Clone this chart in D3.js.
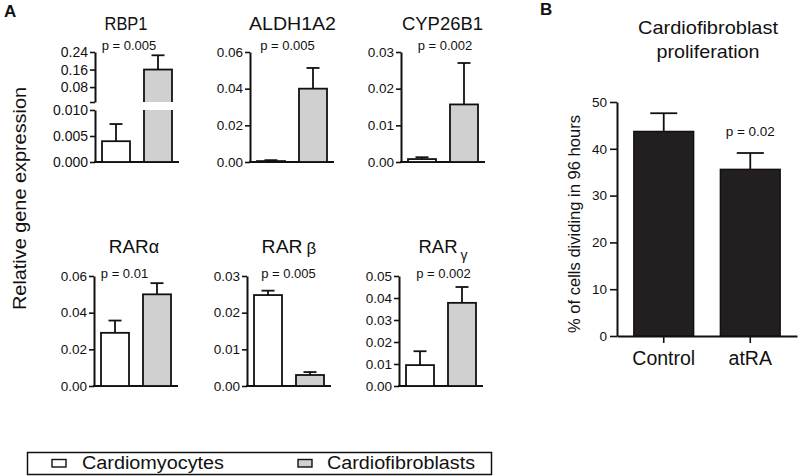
<!DOCTYPE html>
<html><head><meta charset="utf-8">
<script src="https://cdn.jsdelivr.net/npm/d3@7"></script>
<style>
html,body{margin:0;padding:0;background:#fff;}
svg{display:block;font-family:"Liberation Sans",Arial,Helvetica,sans-serif;}
</style></head><body>
<svg id="chart" width="798" height="476"></svg>
<script>
// ---------------- data ----------------
const genes = ["RBP1", "ALDH1A2", "CYP26B1", "RARα", "RARβ", "RARγ"];
const groups = ["Cardiomyocytes", "Cardiofibroblasts"];
const cardiomyocyteValues = [0.004, 0.0005, 0.0008, 0.029, 0.0248, 0.0095];
const cardiomyocyteErrors = [0.0033, 0.0005, 0.0005, 0.0067, 0.0012, 0.0063];
const cardiofibroblastValues = [0.16, 0.040, 0.0157, 0.050, 0.003, 0.0378];
const cardiofibroblastErrors = [0.065, 0.0113, 0.0113, 0.0061, 0.0008, 0.0072];
const pLabels = ["p = 0.005", "p = 0.005", "p = 0.002", "p = 0.01", "p = 0.005", "p = 0.002"];
const yMaxes = [0.010, 0.06, 0.03, 0.06, 0.03, 0.05];
const yTicks = [
  [0, 0.005, 0.010],
  [0, 0.02, 0.04, 0.06],
  [0, 0.01, 0.02, 0.03],
  [0, 0.02, 0.04, 0.06],
  [0, 0.01, 0.02, 0.03],
  [0, 0.01, 0.02, 0.03, 0.04, 0.05]
];
// RBP1 broken axis upper segment
const rbp1UpperDomain = [0.012, 0.24];
const rbp1UpperTicks = [0.08, 0.16, 0.24];

// panel B
const treatments = ["Control", "atRA"];
const proliferationValues = [43.7, 35.6];
const proliferationErrors = [3.9, 3.5];
const proliferationTicks = [0, 10, 20, 30, 40, 50];
const proliferationP = "p = 0.02";

// ---------------- layout ----------------
const svg = d3.select("#chart");
const GRAY = "#d0d0d0";
const DARK = "#231f20";
const INK = "#111";

function fit(sel, w) { return sel.attr("textLength", w).attr("lengthAdjust", "spacingAndGlyphs"); }
function text(x, y, s, size, opts = {}) {
  const t = svg.append("text").attr("x", x).attr("y", y).attr("font-size", size)
    .attr("text-anchor", opts.anchor || "middle").attr("fill", INK).text(s);
  if (opts.bold) t.attr("font-weight", "bold");
  if (opts.w) fit(t, opts.w);
  return t;
}
function styleAxis(g, fontSize) {
  g.select(".domain").attr("stroke", INK).attr("stroke-width", 2);
  g.selectAll(".tick line").attr("stroke", INK).attr("stroke-width", 1.6);
  g.selectAll(".tick text").attr("font-size", fontSize).attr("fill", INK)
    .attr("font-family", "Liberation Sans, Arial, sans-serif");
}

const axisX = [[95, 250, 401], [94, 247, 399]];
const rowBase = [162, 386];
const rowTop = [52, 276];
const plotW = 84;
const titleY = [30, 253];
const pY = [50, 278];
const titleDx = [31, 42.5, 41.5, 40, 42, 44];
const titleW = [43, 87, 81, null, null, null];
const pDx = [34, 37.5, 44, 30.5, 41.5, 44.5];

// panel letters
text(4, 17, "A", 17, { anchor: "start", bold: true });
text(540, 15, "B", 17, { anchor: "start", bold: true });

// left y label
svg.append("text").attr("transform", "translate(26,198.5) rotate(-90)")
  .attr("text-anchor", "middle").attr("font-size", 18.5).attr("fill", INK)
  .text("Relative gene expression").call(fit, 223);

genes.forEach((gene, i) => {
  const row = Math.floor(i / 3), col = i % 3;
  const ax = axisX[row][col];
  const base = rowBase[row], top = rowTop[row];
  const x = d3.scaleBand().domain(groups).range([ax, ax + plotW])
    .paddingInner(1 / 3).paddingOuter(1 / 6);
  const g = svg.append("g");

  let yLow, yHigh = null;
  if (i === 0) {
    yLow = d3.scaleLinear().domain([0, yMaxes[i]]).range([base, 110]);
    yHigh = d3.scaleLinear().domain(rbp1UpperDomain).range([102, top]);
  } else {
    yLow = d3.scaleLinear().domain([0, yMaxes[i]]).range([base, top]);
  }
  const yOf = v => (yHigh && v > yMaxes[0]) ? yHigh(v) : yLow(v);
  const fs = i === 0 ? 14 : 13.5;

  // y axes
  const a1 = g.append("g").attr("transform", `translate(${ax},0)`)
    .call(d3.axisLeft(yLow).tickValues(yTicks[i]).tickSize(5).tickPadding(2).tickSizeOuter(0)
      .tickFormat(d3.format(i === 0 ? ".3f" : ".2f")));
  styleAxis(a1, fs);
  if (yHigh) {
    const a2 = g.append("g").attr("transform", `translate(${ax},0)`)
      .call(d3.axisLeft(yHigh).tickValues([rbp1UpperDomain[0]].concat(rbp1UpperTicks)).tickSize(5)
        .tickPadding(2).tickSizeOuter(0)
        .tickFormat(d => d === rbp1UpperDomain[0] ? "" : d3.format(".2f")(d)));
    styleAxis(a2, fs);
  }
  // x axis line
  g.append("line").attr("x1", ax - 1).attr("x2", ax + plotW).attr("y1", base).attr("y2", base)
    .attr("stroke", INK).attr("stroke-width", 2);

  const series = [
    { key: groups[0], v: cardiomyocyteValues[i], e: cardiomyocyteErrors[i], fill: "#fff" },
    { key: groups[1], v: cardiofibroblastValues[i], e: cardiofibroblastErrors[i], fill: GRAY }
  ];
  series.forEach(s => {
    const cx = x(s.key) + x.bandwidth() / 2;
    const yTop = yOf(s.v + s.e);
    g.append("line").attr("x1", cx).attr("x2", cx).attr("y1", yOf(s.v)).attr("y2", yTop)
      .attr("stroke", INK).attr("stroke-width", 1.8);
    g.append("line").attr("x1", cx - 6.5).attr("x2", cx + 6.5).attr("y1", yTop).attr("y2", yTop)
      .attr("stroke", INK).attr("stroke-width", 1.8);
    g.append("rect").attr("x", x(s.key)).attr("y", yOf(s.v))
      .attr("width", x.bandwidth()).attr("height", base - yOf(s.v))
      .attr("fill", s.fill).attr("stroke", INK).attr("stroke-width", 1.8);
    if (yHigh && s.v > yMaxes[0]) {
      g.append("rect").attr("x", x(s.key) - 3).attr("y", yHigh(rbp1UpperDomain[0]))
        .attr("width", x.bandwidth() + 6).attr("height", yLow(yMaxes[0]) - yHigh(rbp1UpperDomain[0]))
        .attr("fill", "#fff");
    }
  });

  // title
  const tx = ax + titleDx[i];
  if (gene.startsWith("RAR")) {
    const t = svg.append("text").attr("x", tx).attr("y", titleY[row]).attr("text-anchor", "middle")
      .attr("font-size", 18).attr("fill", INK);
    const greek = gene.slice(3);
    if (greek === "α") {
      t.append("tspan").text("RAR").attr("textLength", 40).attr("lengthAdjust", "spacingAndGlyphs");
      t.append("tspan").text(greek).attr("font-size", 18);
    } else if (greek === "β") {
      t.append("tspan").text("RAR").attr("textLength", 41).attr("lengthAdjust", "spacingAndGlyphs");
      t.append("tspan").text(greek).attr("dx", 4).attr("dy", 1).attr("font-size", 17);
    } else {
      t.append("tspan").text("RAR").attr("textLength", 39).attr("lengthAdjust", "spacingAndGlyphs");
      t.append("tspan").text(greek).attr("dx", 3).attr("dy", 7).attr("font-size", 14);
    }
  } else {
    text(tx, titleY[row], gene, 18, { w: titleW[i] });
  }
  // p label
  text(ax + pDx[i], pY[row], pLabels[i], 13);
});

// ---------------- panel B ----------------
const bx0 = 617, bx1 = 797, bBase = 336, bTop = 102;
const xb = d3.scaleBand().domain(treatments).range([bx0, bx1]).paddingInner(0.31).paddingOuter(0.195);
const yb = d3.scaleLinear().domain([0, 50]).range([bBase, bTop]);
const gb = svg.append("g");
const ayb = gb.append("g").attr("transform", `translate(${bx0},0)`)
  .call(d3.axisLeft(yb).tickValues(proliferationTicks).tickSize(7).tickPadding(3).tickSizeOuter(0));
styleAxis(ayb, 13.5);
const axb = gb.append("g").attr("transform", `translate(0,${bBase})`)
  .call(d3.axisBottom(xb).tickSize(7).tickPadding(8).tickSizeOuter(0));
axb.select(".domain").attr("stroke", INK).attr("stroke-width", 2);
axb.selectAll(".tick line").attr("stroke", INK).attr("stroke-width", 1.6);
axb.selectAll(".tick text").attr("font-size", 19.5).attr("fill", INK)
  .attr("font-family", "Liberation Sans, Arial, sans-serif");

treatments.forEach((t, i) => {
  const cx = xb(t) + xb.bandwidth() / 2;
  const v = proliferationValues[i], e = proliferationErrors[i];
  gb.append("line").attr("x1", cx).attr("x2", cx).attr("y1", yb(v)).attr("y2", yb(v + e))
    .attr("stroke", INK).attr("stroke-width", 1.8);
  gb.append("line").attr("x1", cx - 13.5).attr("x2", cx + 13.5).attr("y1", yb(v + e)).attr("y2", yb(v + e))
    .attr("stroke", INK).attr("stroke-width", 1.8);
  gb.append("rect").attr("x", xb(t)).attr("y", yb(v)).attr("width", xb.bandwidth())
    .attr("height", bBase - yb(v)).attr("fill", DARK).attr("stroke", INK).attr("stroke-width", 1.5);
});
text(xb("atRA") + xb.bandwidth() / 2, 136, proliferationP, 13.5);
text(708, 34, "Cardiofibroblast", 18.5, { w: 140 });
text(708, 58, "proliferation", 18.5, { w: 103 });
svg.append("text").attr("transform", "translate(580,224) rotate(-90)")
  .attr("text-anchor", "middle").attr("font-size", 16).attr("fill", INK)
  .text("% of cells dividing in 96 hours").call(fit, 218);

// ---------------- legend ----------------
const lg = svg.append("g");
lg.append("rect").attr("x", 27.5).attr("y", 452.5).attr("width", 464).attr("height", 22)
  .attr("fill", "#fff").attr("stroke", INK).attr("stroke-width", 1.5);
const legendX = [52, 298], legendTextX = [82, 327], legendW = [142, 148];
groups.forEach((gname, i) => {
  lg.append("rect").attr("x", legendX[i]).attr("y", 459.5).attr("width", 14).attr("height", 7.5)
    .attr("fill", i === 0 ? "#fff" : GRAY).attr("stroke", INK).attr("stroke-width", 1.4);
  text(legendTextX[i], 469, gname, 18, { anchor: "start", w: legendW[i] });
});
</script>
</body></html>
